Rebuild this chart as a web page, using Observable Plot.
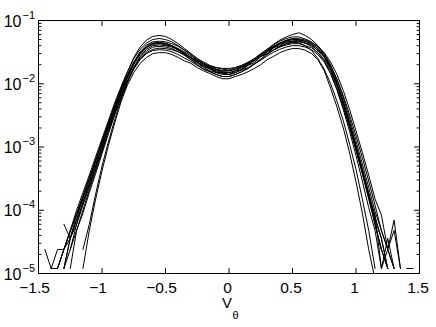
<!DOCTYPE html>
<html>
<head>
<meta charset="utf-8">
<script src="https://cdn.jsdelivr.net/npm/d3@7"></script>
<script src="https://cdn.jsdelivr.net/npm/@observablehq/plot@0.6"></script>
<style>
  html, body { margin: 0; padding: 0; background: #fff; }
  #chart svg { display: block; overflow: visible; }
</style>
</head>
<body>
<div id="chart"></div>
<script>
// x grid (V_theta bin centres)
const vTheta = [-1.45,-1.40,-1.35,-1.30,-1.25,-1.20,-1.15,-1.10,-1.05,-1.00,-0.95,-0.90,-0.85,-0.80,
  -0.75,-0.70,-0.65,-0.60,-0.55,-0.50,-0.45,-0.40,-0.35,-0.30,
  -0.25,-0.20,-0.15,-0.10,-0.05,0.00,0.05,0.10,0.15,0.20,
  0.25,0.30,0.35,0.40,0.45,0.50,0.55,0.60,0.65,0.70,0.75,
  0.80,0.85,0.90,0.95,1.00,1.05,1.10,1.15,1.20,1.25,1.30,1.35,1.40,1.45];

const pdf01 = [null,null,1.2e-5,2.4e-5,4.5e-5,9e-5,1.7e-4,3.2e-4,6.2e-4,1.2e-3,2.4e-3,4.6e-3,8.5e-3,1.5e-2,
  2.6e-2,3.8e-2,4.9e-2,5.6e-2,5.8e-2,5.6e-2,5.0e-2,4.3e-2,3.6e-2,3.0e-2,
  2.5e-2,2.1e-2,1.85e-2,1.7e-2,1.6e-2,1.6e-2,1.7e-2,1.9e-2,2.1e-2,2.5e-2,
  3.0e-2,3.5e-2,4.1e-2,4.7e-2,5.2e-2,5.5e-2,5.5e-2,5.1e-2,4.6e-2,3.8e-2,2.9e-2,
  1.9e-2,1.05e-2,5.3e-3,2.4e-3,1.05e-3,4.4e-4,1.8e-4,7e-5,3.6e-5,1.2e-5,null,null,null,null];
const pdf02 = [null,null,null,null,null,null,1.2e-5,4.8e-5,1.5e-4,4.2e-4,1.05e-3,2.4e-3,5.2e-3,9.5e-3,
  1.5e-2,2.1e-2,2.6e-2,3.0e-2,3.1e-2,3.1e-2,2.9e-2,2.6e-2,2.3e-2,2.1e-2,
  1.8e-2,1.6e-2,1.45e-2,1.3e-2,1.2e-2,1.2e-2,1.3e-2,1.4e-2,1.55e-2,1.75e-2,
  2.0e-2,2.4e-2,2.7e-2,3.1e-2,3.4e-2,3.6e-2,3.6e-2,3.4e-2,3.0e-2,2.4e-2,1.6e-2,
  8.5e-3,4.3e-3,2.0e-3,8e-4,2.8e-4,9e-5,2.4e-5,8e-6,null,null,null,null,null,null];
const pdf03 = [2.4e-5,1.2e-5,2.4e-5,2.4e-5,4.8e-5,8.5e-5,1.6e-4,3.1e-4,6e-4,1.15e-3,2.2e-3,4.2e-3,7.8e-3,1.3e-2,
  2.1e-2,3.0e-2,3.8e-2,4.3e-2,4.4e-2,4.1e-2,4.0e-2,3.4e-2,3.1e-2,2.5e-2,
  2.2e-2,1.85e-2,1.75e-2,1.5e-2,1.5e-2,1.4e-2,1.6e-2,1.65e-2,1.95e-2,2.15e-2,
  2.7e-2,3.0e-2,3.7e-2,4.0e-2,4.6e-2,4.7e-2,4.9e-2,4.4e-2,4.2e-2,3.3e-2,2.6e-2,
  1.7e-2,9.8e-3,4.9e-3,2.3e-3,9.8e-4,4.1e-4,1.7e-4,6e-5,2.4e-5,1.2e-5,null,null,1.2e-5,1.2e-5];
const pdf04 = [null,null,null,1.2e-5,3.6e-5,7e-5,1.3e-4,2.5e-4,4.9e-4,1.0e-3,2.0e-3,3.9e-3,7.5e-3,1.3e-2,
  2.2e-2,3.2e-2,4.1e-2,4.6e-2,4.7e-2,4.6e-2,4.3e-2,3.9e-2,3.4e-2,3.0e-2,
  2.5e-2,2.2e-2,1.95e-2,1.8e-2,1.7e-2,1.65e-2,1.8e-2,1.95e-2,2.2e-2,2.5e-2,
  2.9e-2,3.4e-2,3.9e-2,4.4e-2,4.8e-2,5.0e-2,5.0e-2,4.7e-2,4.3e-2,3.6e-2,2.7e-2,
  1.8e-2,1.0e-2,5.1e-3,2.4e-3,1.05e-3,4.5e-4,1.9e-4,8e-5,3.6e-5,1.2e-5,null,null,null,null];
const pdf05 = [null,null,null,1.2e-5,2.4e-5,6e-5,1.2e-4,2.3e-4,4.5e-4,9e-4,1.8e-3,3.5e-3,6.5e-3,1.1e-2,
  1.8e-2,2.6e-2,3.3e-2,3.8e-2,3.9e-2,3.8e-2,3.6e-2,3.2e-2,2.8e-2,2.4e-2,
  2.1e-2,1.8e-2,1.6e-2,1.5e-2,1.4e-2,1.4e-2,1.5e-2,1.7e-2,2.0e-2,2.4e-2,
  2.9e-2,3.5e-2,4.2e-2,4.9e-2,5.5e-2,6.0e-2,6.4e-2,5.8e-2,5.0e-2,4.0e-2,3.0e-2,
  2.0e-2,1.15e-2,6.0e-3,2.8e-3,1.25e-3,5.4e-4,2.3e-4,9.6e-5,4.8e-5,2.4e-5,1.2e-5,null,null,null];
const pdf06 = [null,null,null,null,1.2e-5,4.8e-5,1.0e-4,2.1e-4,4.2e-4,8.5e-4,1.75e-3,3.4e-3,6.3e-3,1.1e-2,
  1.75e-2,2.5e-2,3.1e-2,3.5e-2,3.65e-2,3.6e-2,3.45e-2,3.2e-2,2.9e-2,2.6e-2,
  2.3e-2,2.1e-2,1.9e-2,1.8e-2,1.75e-2,1.75e-2,1.8e-2,1.95e-2,2.15e-2,2.4e-2,
  2.7e-2,3.0e-2,3.4e-2,3.8e-2,4.1e-2,4.3e-2,4.3e-2,4.0e-2,3.7e-2,3.1e-2,2.4e-2,
  1.6e-2,9e-3,4.6e-3,2.1e-3,9e-4,3.8e-4,1.5e-4,6e-5,2.4e-5,1.2e-5,null,null,null,null];
const pdf07 = [null,null,null,6e-5,3.6e-5,8.4e-5,1.5e-4,2.8e-4,5.5e-4,1.05e-3,2.1e-3,4.0e-3,7.4e-3,1.3e-2,
  2.1e-2,3.0e-2,3.9e-2,4.4e-2,4.5e-2,4.4e-2,4.0e-2,3.5e-2,2.9e-2,2.4e-2,
  2.0e-2,1.7e-2,1.55e-2,1.4e-2,1.3e-2,1.3e-2,1.4e-2,1.55e-2,1.75e-2,2.05e-2,
  2.45e-2,2.95e-2,3.45e-2,3.9e-2,4.3e-2,4.6e-2,4.6e-2,4.4e-2,4.0e-2,3.4e-2,2.7e-2,
  1.9e-2,1.2e-2,6.5e-3,3.2e-3,1.5e-3,6.8e-4,2.9e-4,1.2e-4,4.8e-5,2.4e-5,7e-5,1.2e-5,null,null];
const pdf08 = [null,null,null,null,null,null,2.4e-5,6e-5,1.8e-4,5e-4,1.2e-3,2.7e-3,5.6e-3,1.05e-2,
  1.8e-2,2.7e-2,3.5e-2,4.0e-2,4.1e-2,4.0e-2,3.8e-2,3.4e-2,3.0e-2,2.6e-2,
  2.25e-2,1.95e-2,1.75e-2,1.6e-2,1.5e-2,1.5e-2,1.6e-2,1.8e-2,2.0e-2,2.3e-2,
  2.7e-2,3.2e-2,3.7e-2,4.2e-2,4.5e-2,4.75e-2,4.7e-2,4.4e-2,3.9e-2,3.1e-2,2.3e-2,
  1.45e-2,8e-3,3.9e-3,1.75e-3,7.3e-4,2.9e-4,1.1e-4,4.8e-5,1.2e-5,2.4e-5,1.2e-5,null,null,null];
const pdf09 = [null,null,null,1.2e-5,3.6e-5,6e-5,1.35e-4,2.6e-4,5e-4,1.0e-3,2.0e-3,3.8e-3,7e-3,1.2e-2,
  2.0e-2,2.9e-2,3.7e-2,4.2e-2,4.3e-2,4.25e-2,3.9e-2,3.5e-2,3.0e-2,2.6e-2,
  2.2e-2,1.9e-2,1.7e-2,1.55e-2,1.45e-2,1.4e-2,1.5e-2,1.65e-2,1.8e-2,2.05e-2,
  2.35e-2,2.75e-2,3.15e-2,3.5e-2,3.8e-2,4.0e-2,4.0e-2,3.8e-2,3.45e-2,2.9e-2,2.2e-2,
  1.45e-2,8.2e-3,4.2e-3,2.0e-3,8.8e-4,3.8e-4,1.6e-4,8.4e-5,1.2e-5,3.6e-5,1.2e-5,null,null,null];
const pdf10 = [null,1.2e-5,1.2e-5,2.4e-5,4.8e-5,1.0e-4,1.9e-4,3.6e-4,7e-4,1.35e-3,2.6e-3,5e-3,9e-3,1.55e-2,
  2.5e-2,3.5e-2,4.4e-2,5.0e-2,5.2e-2,5.0e-2,4.6e-2,4.0e-2,3.4e-2,2.85e-2,
  2.4e-2,2.0e-2,1.8e-2,1.65e-2,1.55e-2,1.5e-2,1.6e-2,1.8e-2,2.0e-2,2.35e-2,
  2.75e-2,3.25e-2,3.8e-2,4.3e-2,4.75e-2,5.0e-2,4.95e-2,4.7e-2,4.3e-2,3.6e-2,2.75e-2,
  1.8e-2,1.0e-2,5.1e-3,2.3e-3,1.0e-3,4.2e-4,1.7e-4,6e-5,2.4e-5,null,null,null,null,null];
const pdf11 = [null,null,null,null,2.4e-5,4.8e-5,9e-5,1.9e-4,3.8e-4,7.8e-4,1.6e-3,3.2e-3,6e-3,1.05e-2,
  1.7e-2,2.4e-2,3.0e-2,3.35e-2,3.45e-2,3.4e-2,3.2e-2,2.9e-2,2.55e-2,2.25e-2,
  1.95e-2,1.7e-2,1.55e-2,1.4e-2,1.3e-2,1.3e-2,1.4e-2,1.55e-2,1.75e-2,2.05e-2,
  2.45e-2,2.9e-2,3.4e-2,3.85e-2,4.25e-2,4.5e-2,4.45e-2,4.0e-2,3.35e-2,2.5e-2,1.7e-2,
  1.0e-2,5.3e-3,2.6e-3,1.1e-3,4.4e-4,1.5e-4,4.8e-5,1.2e-5,null,null,null,null,null,null];
const pdf12 = [null,null,1.2e-5,2.4e-5,3.6e-5,7.2e-5,1.6e-4,3.2e-4,6.3e-4,1.25e-3,2.4e-3,4.5e-3,8.2e-3,1.4e-2,
  2.2e-2,3.1e-2,3.8e-2,4.3e-2,4.4e-2,4.3e-2,4.0e-2,3.6e-2,3.2e-2,2.75e-2,
  2.35e-2,2.05e-2,1.85e-2,1.7e-2,1.6e-2,1.6e-2,1.7e-2,1.85e-2,2.1e-2,2.4e-2,
  2.85e-2,3.35e-2,3.9e-2,4.4e-2,4.9e-2,5.2e-2,5.15e-2,4.9e-2,4.5e-2,3.9e-2,3.1e-2,
  2.2e-2,1.4e-2,7.8e-3,3.9e-3,1.8e-3,8.2e-4,3.6e-4,1.5e-4,8.4e-5,2.4e-5,4.8e-5,1.2e-5,null,null];

const xTicks = [-1.5, -1, -0.5, 0, 0.5, 1, 1.5];
const xTickLabels = ["\u22121.5", "\u22121", "\u22120.5", "0", "0.5", "1", "1.5"];
const yTicks = [1e-5, 1e-4, 1e-3, 1e-2, 1e-1];
const yTickBase = "10";
const yTickExponents = ["\u22125", "\u22124", "\u22123", "\u22122", "\u22121"];
const xLabelMain = "V";
const xLabelSub = "\u03b8";

const series = [pdf01,pdf02,pdf03,pdf04,pdf05,pdf06,pdf07,pdf08,pdf09,pdf10,pdf11,pdf12];
const rows = [];
series.forEach((s, k) => {
  vTheta.forEach((v, i) => rows.push({curve: k, v, p: s[i] == null ? NaN : s[i]}));
});

// minor ticks for the log axis (2..9 x 10^k)
const yMinor = [];
for (let e = -5; e <= -2; e++) for (let m = 2; m <= 9; m++) yMinor.push(m * Math.pow(10, e));

const tickShape = {draw(context, l) { context.moveTo(0, 0); context.lineTo(0, -l); }};
const font = "'Liberation Sans', Arial, Helvetica, sans-serif";
const xIdx = xTicks.map((d, i) => i);

const chart = Plot.plot({
  width: 436,
  height: 327,
  marginLeft: 38,
  marginRight: 17,
  marginTop: 20,
  marginBottom: 54,
  style: {fontFamily: font, background: "#fff", color: "#000"},
  x: {domain: [-1.5, 1.5], axis: null},
  y: {type: "log", domain: [1e-5, 1e-1], axis: null},
  marks: [
    Plot.line(rows, {x: "v", y: "p", z: "curve", stroke: "#000", strokeWidth: 1, clip: true}),
    Plot.frame({stroke: "#000", strokeWidth: 1}),
    // x ticks bottom & top (inward)
    Plot.vector(xTicks, {x: d => d, frameAnchor: "bottom", length: 5, rotate: 0, anchor: "start", shape: tickShape, stroke: "#000", strokeWidth: 1}),
    Plot.vector(xTicks, {x: d => d, frameAnchor: "top", length: 5, rotate: 180, anchor: "start", shape: tickShape, stroke: "#000", strokeWidth: 1}),
    // y major ticks left & right
    Plot.vector(yTicks, {y: d => d, frameAnchor: "left", length: 5, rotate: 90, anchor: "start", shape: tickShape, stroke: "#000", strokeWidth: 1}),
    Plot.vector(yTicks, {y: d => d, frameAnchor: "right", length: 5, rotate: -90, anchor: "start", shape: tickShape, stroke: "#000", strokeWidth: 1}),
    // y minor ticks
    Plot.vector(yMinor, {y: d => d, frameAnchor: "left", length: 2.5, rotate: 90, anchor: "start", shape: tickShape, stroke: "#000", strokeWidth: 1}),
    Plot.vector(yMinor, {y: d => d, frameAnchor: "right", length: 2.5, rotate: -90, anchor: "start", shape: tickShape, stroke: "#000", strokeWidth: 1}),
    // x tick labels
    Plot.text(xIdx, {filter: i => xTicks[i] < 0, x: i => xTicks[i], text: i => xTickLabels[i], frameAnchor: "bottom", dy: 14.5, dx: -4, lineAnchor: "middle", fontSize: 15.5, fill: "#000"}),
    Plot.text(xIdx, {filter: i => xTicks[i] >= 0, x: i => xTicks[i], text: i => xTickLabels[i], frameAnchor: "bottom", dy: 14.5, dx: -1.5, lineAnchor: "middle", fontSize: 15.5, fill: "#000"}),
    // y tick labels 10^k
    Plot.text(yTicks, {y: d => d, text: () => yTickBase, frameAnchor: "left", textAnchor: "end", dx: -17, dy: 1, fontSize: 16, fill: "#000"}),
    Plot.text(yTicks, {y: d => d, text: (d, i) => yTickExponents[i], frameAnchor: "left", textAnchor: "start", dx: -16, dy: -5.5, fontSize: 11, fill: "#000"}),
    // axis label V_theta
    Plot.text([0], {x: d => d, text: () => xLabelMain, frameAnchor: "bottom", dy: 30, dx: -2, lineAnchor: "middle", fontSize: 15, fill: "#000"}),
    Plot.text([0], {x: d => d, text: () => xLabelSub, frameAnchor: "bottom", dy: 41.5, dx: 6.5, lineAnchor: "middle", fontSize: 11, fill: "#000"})
  ]
});
document.getElementById("chart").appendChild(chart);
</script>
</body>
</html>
